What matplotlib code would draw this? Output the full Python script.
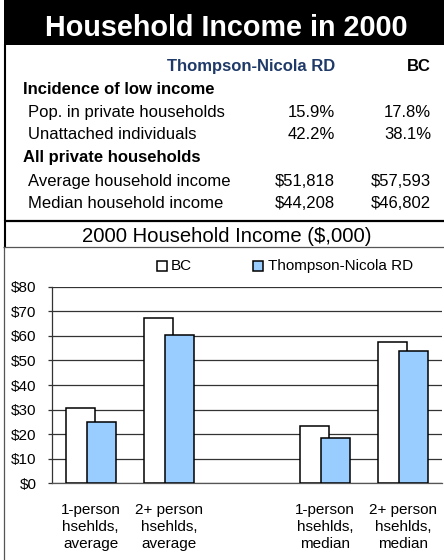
import matplotlib
matplotlib.use("Agg")
import matplotlib.pyplot as plt
from matplotlib.patches import Rectangle
from matplotlib.lines import Line2D
import numpy as np

plt.rcParams['font.family'] = ['Liberation Sans', 'DejaVu Sans']

# ---------------- data ----------------
title = "Household Income in 2000"
col_headers = ["Thompson-Nicola RD", "BC"]
section1 = "Incidence of low income"
rows1 = ["Pop. in private households", "Unattached individuals"]
tn1 = ["15.9%", "42.2%"]
bc1 = ["17.8%", "38.1%"]
section2 = "All private households"
rows2 = ["Average household income", "Median household income"]
tn2 = ["$51,818", "$44,208"]
bc2 = ["$57,593", "$46,802"]

chart_title = "2000 Household Income ($,000)"
categories = ["1-person\nhsehlds,\naverage", "2+ person\nhsehlds,\naverage", "",
              "1-person\nhsehlds,\nmedian", "2+ person\nhsehlds,\nmedian"]
series_names = ["BC", "Thompson-Nicola RD"]
bc_values = [30.5, 67.4, np.nan, 23.5, 57.5]
tn_values = [25.1, 60.3, np.nan, 18.3, 53.7]
yticks = [0, 10, 20, 30, 40, 50, 60, 70, 80]
ytick_labels = ["$0", "$10", "$20", "$30", "$40", "$50", "$60", "$70", "$80"]

W, H = 444, 560
fig = plt.figure(figsize=(W / 100, H / 100), dpi=100)


def fx(x):
    return x / W


def fy(y):
    return 1 - y / H


def hline(y, x0, x1, lw, color='black'):
    fig.add_artist(Line2D([fx(x0), fx(x1)], [fy(y), fy(y)], lw=lw, color=color,
                          transform=fig.transFigure, solid_capstyle='butt'))


def vline(x, y0, y1, lw, color='black'):
    fig.add_artist(Line2D([fx(x), fx(x)], [fy(y0), fy(y1)], lw=lw, color=color,
                          transform=fig.transFigure, solid_capstyle='butt'))


def txt(x, y, s, **kw):
    fig.text(fx(x), fy(y), s, va='baseline', **kw)


# header band
fig.add_artist(Rectangle((fx(4), fy(44.5)), fx(444) - fx(4), fy(0) - fy(44.5),
                         transform=fig.transFigure, facecolor='black', edgecolor='none'))
txt(226.5, 36, title, ha='center', color='white', fontsize=20.7, fontweight='bold')

# borders
vline(5, 44, 221, 1.5)
hline(220.5, 4, 444, 1.6)
vline(5, 220, 247, 1.5)
hline(246.8, 3, 444, 0.9, color='#555555')
vline(3.8, 246.5, 560, 0.9, color='#555555')

# table
navy = '#1F3A68'
fs = 12
txt(335, 70.7, col_headers[0], ha='right', color=navy, fontsize=fs, fontweight='bold')
txt(431, 70.7, col_headers[1], ha='right', color='black', fontsize=fs, fontweight='bold')
txt(23.3, 93.5, section1, ha='left', fontsize=fs, fontweight='bold')
for i, (r, a, b) in enumerate(zip(rows1, tn1, bc1)):
    y = 117.3 + i * 22
    txt(27.5, y, r, ha='left', fontsize=fs)
    txt(335, y, a, ha='right', fontsize=fs)
    txt(431, y, b, ha='right', fontsize=fs)
txt(23.3, 161.7, section2, ha='left', fontsize=fs, fontweight='bold')
for i, (r, a, b) in enumerate(zip(rows2, tn2, bc2)):
    y = 186 + i * 22.3
    txt(27.5, y, r, ha='left', fontsize=fs)
    txt(335, y, a, ha='right', fontsize=fs)
    txt(431, y, b, ha='right', fontsize=fs)

# chart title
txt(227, 242.3, chart_title, ha='center', fontsize=14.6)

# chart axes
left, right, top, bottom = 51.7, 442, 286.7, 483.3
ax = fig.add_axes([fx(left), fy(bottom), fx(right) - fx(left), fy(top) - fy(bottom)])
x = np.arange(len(categories))
bw = 0.376
off = 0.135
ax.bar(x - off, bc_values, width=bw, color='white', edgecolor='black', linewidth=1.1, zorder=3)
ax.bar(x + off, tn_values, width=bw, color='#99CCFF', edgecolor='black', linewidth=1.1, zorder=4)
ax.set_xlim(-0.5, 4.5)
ax.set_ylim(0, 80)
ax.set_yticks(yticks)
ax.set_yticklabels(ytick_labels, fontsize=11)
ax.set_xticks(x)
ax.set_xticklabels(categories, fontsize=11, linespacing=1.3)
ax.tick_params(axis='x', length=0, pad=14)
ax.tick_params(axis='y', length=3, width=0.9, color='#333333', pad=8)
ax.grid(axis='y', color='#333333', linewidth=0.9, zorder=1)
for s in ['top', 'right']:
    ax.spines[s].set_visible(False)
ax.spines['left'].set_color('#333333')
ax.spines['left'].set_linewidth(0.9)
ax.spines['bottom'].set_color('#555555')
ax.spines['bottom'].set_linewidth(0.9)
ax.set_facecolor('none')

# legend
leg_y = 265.7
sq = 10
for name, fc, sx, tx in [(series_names[0], 'white', 157, 171), (series_names[1], '#99CCFF', 253, 268)]:
    fig.add_artist(Rectangle((fx(sx), fy(leg_y + sq / 2)), fx(sq), sq / H,
                             transform=fig.transFigure, facecolor=fc, edgecolor='black', lw=1.1))
    fig.text(fx(tx), fy(leg_y + 0.5), name, ha='left', va='center', fontsize=11)

fig.savefig("out.png", dpi=100)
